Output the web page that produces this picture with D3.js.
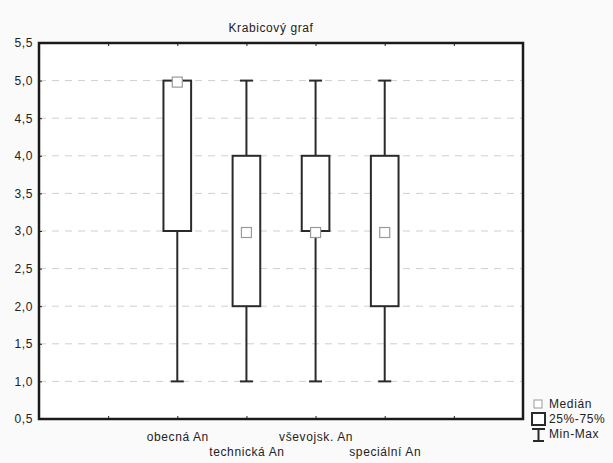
<!DOCTYPE html>
<html>
<head>
<meta charset="utf-8">
<script src="https://d3js.org/d3.v7.min.js"></script>
<style>
  body { margin: 0; background: #fafafa; }
  svg { display: block; font-family: "Liberation Sans", Arial, sans-serif; }
  text { letter-spacing: 0.6px; }
</style>
</head>
<body>
<div id="chart"></div>
<script>
// data
var categories = ["obecná An", "technická An", "vševojsk. An", "speciální An"];
var minVals = [1, 1, 1, 1];
var q1Vals = [3, 2, 3, 2];
var medianVals = [5, 3, 3, 3];
var q3Vals = [5, 4, 4, 4];
var maxVals = [5, 5, 5, 5];
var yTicks = [0.5, 1, 1.5, 2, 2.5, 3, 3.5, 4, 4.5, 5, 5.5];
var legendLabels = ["Medián", "25%-75%", "Min-Max"];

var data = categories.map(function (c, i) {
  return { name: c, pos: i + 2, min: minVals[i], q1: q1Vals[i], med: medianVals[i], q3: q3Vals[i], max: maxVals[i] };
});

// set the dimensions and margins of the graph
var margin = { top: 43, right: 90, bottom: 44, left: 39 },
  width = 613 - margin.left - margin.right,
  height = 463 - margin.top - margin.bottom;

var svgRoot = d3.select("#chart")
  .append("svg")
  .attr("width", 613)
  .attr("height", 463);

var svg = svgRoot.append("g")
  .attr("transform", "translate(" + margin.left + "," + margin.top + ")");

// plot background
svg.append("rect")
  .attr("width", width)
  .attr("height", height)
  .style("fill", "#fff");

// scales
var x = d3.scaleLinear().domain([0, 7]).range([0, width]);
var y = d3.scaleLinear().domain([0.5, 5.5]).range([height, 0]);

// dashed grid
svg.append("g")
  .selectAll("line")
  .data(yTicks.slice(1, -1))
  .join("line")
  .attr("x1", 0)
  .attr("x2", width)
  .attr("y1", function (d) { return y(d); })
  .attr("y2", function (d) { return y(d); })
  .style("stroke", "#cfcfcf")
  .style("stroke-width", 1)
  .style("stroke-dasharray", "7,6");

// Y axis
var yAxis = svg.append("g")
  .call(d3.axisLeft(y)
    .tickValues(yTicks)
    .tickFormat(function (d) { return d3.format(".1f")(d).replace(".", ","); })
    .tickSizeInner(-3).tickSizeOuter(0).tickPadding(6));
yAxis.select(".domain").remove();
yAxis.selectAll("text").style("font-size", "12px").style("fill", "#222");
yAxis.selectAll("line").style("stroke", "#222");

// X axis bottom with staggered labels
var xAxis = svg.append("g")
  .attr("transform", "translate(0," + height + ")")
  .call(d3.axisBottom(x)
    .tickValues([1, 2, 3, 4, 5, 6])
    .tickFormat(function (d) { return categories[d - 2] || ""; })
    .tickSizeInner(-3).tickSizeOuter(0).tickPadding(13));
xAxis.select(".domain").remove();
xAxis.selectAll("line").style("stroke", "#222");
xAxis.selectAll("text")
  .style("font-size", "12px")
  .style("fill", "#222")
  .attr("y", function (d) { return (d % 2 === 0) ? 13 : 28; });

// top ticks
var xTop = svg.append("g")
  .call(d3.axisTop(x).tickValues([1, 2, 3, 4, 5, 6]).tickFormat("").tickSizeInner(-3).tickSizeOuter(0));
xTop.select(".domain").remove();
xTop.selectAll("line").style("stroke", "#222");

var boxW = x(0.4) - x(0);
var capW = 13;

var boxes = svg.append("g").selectAll("g")
  .data(data)
  .join("g");

// whiskers
boxes.append("line")
  .attr("x1", function (d) { return x(d.pos); })
  .attr("x2", function (d) { return x(d.pos); })
  .attr("y1", function (d) { return y(d.max); })
  .attr("y2", function (d) { return y(d.q3); })
  .style("stroke", "#2a2a2a").style("stroke-width", 2);
boxes.append("line")
  .attr("x1", function (d) { return x(d.pos); })
  .attr("x2", function (d) { return x(d.pos); })
  .attr("y1", function (d) { return y(d.q1); })
  .attr("y2", function (d) { return y(d.min); })
  .style("stroke", "#2a2a2a").style("stroke-width", 2);
// caps
boxes.filter(function (d) { return d.max > d.q3; }).append("line")
  .attr("x1", function (d) { return x(d.pos) - capW / 2; })
  .attr("x2", function (d) { return x(d.pos) + capW / 2; })
  .attr("y1", function (d) { return y(d.max); })
  .attr("y2", function (d) { return y(d.max); })
  .style("stroke", "#2a2a2a").style("stroke-width", 2);
boxes.append("line")
  .attr("x1", function (d) { return x(d.pos) - capW / 2; })
  .attr("x2", function (d) { return x(d.pos) + capW / 2; })
  .attr("y1", function (d) { return y(d.min); })
  .attr("y2", function (d) { return y(d.min); })
  .style("stroke", "#2a2a2a").style("stroke-width", 2);

// boxes
boxes.append("rect")
  .attr("x", function (d) { return x(d.pos) - boxW / 2; })
  .attr("y", function (d) { return y(d.q3); })
  .attr("width", boxW)
  .attr("height", function (d) { return y(d.q1) - y(d.q3); })
  .style("fill", "#fff")
  .style("stroke", "#2a2a2a")
  .style("stroke-width", 2);

// medians
boxes.append("rect")
  .attr("x", function (d) { return x(d.pos) - 5; })
  .attr("y", function (d) { return y(d.med) - 3.5; })
  .attr("width", 10)
  .attr("height", 10)
  .style("fill", "#fff")
  .style("stroke", "#9a9a9a")
  .style("stroke-width", 1.2);

// plot frame
svg.append("rect")
  .attr("width", width)
  .attr("height", height)
  .style("fill", "none")
  .style("stroke", "#1a1a1a")
  .style("stroke-width", 2.5);

// title
svgRoot.append("text")
  .attr("x", 271)
  .attr("y", 32)
  .attr("text-anchor", "middle")
  .style("font-size", "12px")
  .style("fill", "#222")
  .text("Krabicový graf");

// legend
var legend = svgRoot.append("g").attr("transform", "translate(531,398)");
legend.append("rect")
  .attr("x", 3).attr("y", 2).attr("width", 8).attr("height", 8)
  .style("fill", "#fff").style("stroke", "#9a9a9a").style("stroke-width", 1);
legend.append("rect")
  .attr("x", 1).attr("y", 15).attr("width", 13).attr("height", 12)
  .style("fill", "#fff").style("stroke", "#2a2a2a").style("stroke-width", 2);
legend.append("line").attr("x1", 1).attr("x2", 14).attr("y1", 31).attr("y2", 31)
  .style("stroke", "#2a2a2a").style("stroke-width", 2);
legend.append("line").attr("x1", 7.5).attr("x2", 7.5).attr("y1", 31).attr("y2", 43)
  .style("stroke", "#2a2a2a").style("stroke-width", 2);
legend.append("line").attr("x1", 2).attr("x2", 13).attr("y1", 43).attr("y2", 43)
  .style("stroke", "#2a2a2a").style("stroke-width", 2);
legend.selectAll("text")
  .data(legendLabels)
  .join("text")
  .attr("x", 18)
  .attr("y", function (d, i) { return 10 + i * 15; })
  .style("font-size", "12px")
  .style("fill", "#222")
  .text(function (d) { return d; });
</script>
</body>
</html>
